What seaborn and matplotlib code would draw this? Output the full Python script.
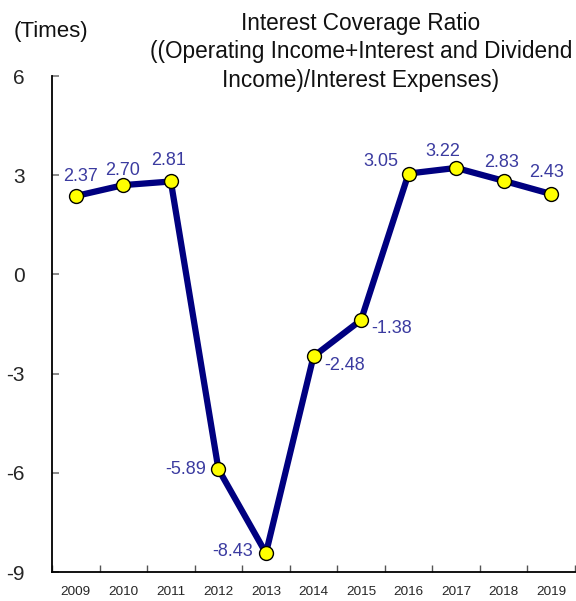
import matplotlib
matplotlib.use("Agg")
import matplotlib.pyplot as plt
import seaborn as sns
import pandas as pd
import numpy as np
from matplotlib.ticker import FixedLocator

years = ["2009", "2010", "2011", "2012", "2013", "2014", "2015", "2016", "2017", "2018", "2019"]
values = [2.37, 2.70, 2.81, -5.89, -8.43, -2.48, -1.38, 3.05, 3.22, 2.83, 2.43]
yticks = [-9, -6, -3, 0, 3, 6]

# label placement relative to each point (pixels: dx, dy up, alignment)
label_place = [(5, 20, "center"), (-1, 15, "center"), (-2, 21, "center"),
               (-12, 0, "right"), (-13, 2, "right"), (11, -9, "left"),
               (10, -8, "left"), (-10, 12, "right"), (-13, 16, "center"),
               (-2, 18, "center"), (-5, 22, "center")]

sns.set_theme(style="white")
plt.rcParams['font.family'] = ['Liberation Sans', 'DejaVu Sans']

fig = plt.figure(figsize=(5.76, 6.01), dpi=100)
ax = fig.add_axes([52/576, 1-572/601, (575-52)/576, (572-76)/601])

df = pd.DataFrame({"x": np.arange(len(years)), "y": values})
sns.lineplot(data=df, x="x", y="y", ax=ax, color="#000080", linewidth=4.5,
             marker="o", markersize=10, markerfacecolor="#ffff00",
             markeredgecolor="black", markeredgewidth=1.0)

lab_color = "#3b3ba0"
px = 0.72
for i, (v, (dx, dy, ha)) in enumerate(zip(values, label_place)):
    ax.annotate(f"{v:.2f}", (i, v), xytext=(dx * px, dy * px), textcoords="offset points",
                ha=ha, va="center", fontsize=13, color=lab_color)

ax.set_xlim(-0.5, len(years) - 0.5)
ax.set_ylim(-9, 6)
ax.set_xticks(np.arange(len(years)))
ax.set_xticklabels(years, fontsize=9.7)
ax.xaxis.set_minor_locator(FixedLocator(np.arange(len(years) + 1) - 0.5))
ax.tick_params(axis="x", which="major", length=0, pad=10)
ax.tick_params(axis="x", which="minor", direction="in", length=5, width=1, color="#555555", bottom=True)
ax.set_yticks(yticks)
ax.set_yticklabels([str(t) for t in yticks], fontsize=15)
ax.tick_params(axis="y", direction="in", length=5, width=1.2, color="#777777", pad=19.5, left=True)
ax.set_xlabel("")
ax.set_ylabel("")
for s in ["top", "right"]:
    ax.spines[s].set_visible(False)
for s in ["left", "bottom"]:
    ax.spines[s].set_color("black")
    ax.spines[s].set_linewidth(1.3)

fig.text(361/576, 1-12/601, "Interest Coverage Ratio\n((Operating Income+Interest and Dividend\nIncome)/Interest Expenses)",
         ha="center", va="top", fontsize=16.3, linespacing=1.3, color="#111111")
fig.text(14/576, 1-31/601, "(Times)", ha="left", va="center", fontsize=16, color="#111111")

fig.savefig("out.png", dpi=100)
